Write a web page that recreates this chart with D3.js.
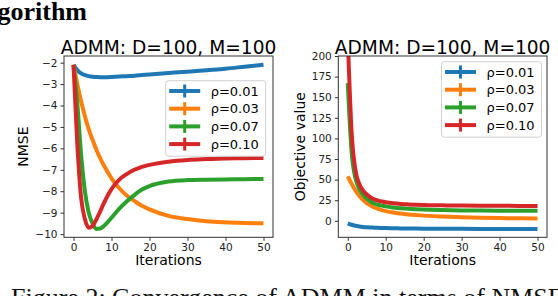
<!DOCTYPE html>
<html>
<head>
<meta charset="utf-8">
<script src="https://cdn.jsdelivr.net/npm/d3@7"></script>
<style>
  body { margin: 0; background: #fff; }
  text { font-family: "DejaVu Sans", sans-serif; }
</style>
</head>
<body>
<div id="chart-area"></div>
<script>
var iters = [0, 1, 2, 3, 4, 5, 6, 7, 8, 9, 10, 12, 14, 16, 18, 20, 25, 30, 35, 40, 45, 50];

var rhoLabels = ["ρ=0.01", "ρ=0.03", "ρ=0.07", "ρ=0.10"];
var colors = ["#1f77b4", "#ff7f0e", "#2ca02c", "#d62728"];

// left panel: NMSE
var nmse01 = [-2.1, -2.35, -2.5, -2.58, -2.63, -2.66, -2.67, -2.68, -2.68, -2.68, -2.67, -2.65, -2.63, -2.61, -2.58, -2.55, -2.48, -2.42, -2.35, -2.28, -2.19, -2.1];
var nmse03 = [-2.1, -3.0, -3.8, -4.5, -5.1, -5.6, -6.05, -6.45, -6.8, -7.1, -7.4, -7.85, -8.2, -8.45, -8.68, -8.85, -9.15, -9.3, -9.4, -9.45, -9.48, -9.5];
var nmse07 = [-2.1, -3.9, -6.3, -8.0, -9.0, -9.5, -9.76, -9.74, -9.62, -9.44, -9.24, -8.82, -8.48, -8.18, -7.92, -7.76, -7.55, -7.48, -7.46, -7.45, -7.44, -7.43];
var nmse10 = [-2.1, -5.8, -8.3, -9.3, -9.7, -9.62, -9.32, -8.95, -8.56, -8.2, -7.9, -7.47, -7.2, -7.0, -6.86, -6.77, -6.62, -6.54, -6.5, -6.47, -6.46, -6.45];

// right panel: objective value
var obj01 = [-3, -4.8, -6, -6.8, -7.4, -7.8, -8.1, -8.35, -8.55, -8.72, -8.85, -9.05, -9.2, -9.32, -9.42, -9.5, -9.64, -9.74, -9.82, -9.88, -9.94, -10];
var obj03 = [54, 45, 37, 30.5, 25.5, 21.5, 18.5, 16.2, 14.5, 13, 11.8, 10, 8.8, 7.8, 7, 6.3, 5.2, 4.4, 3.8, 3.4, 3.1, 2.9];
var obj07 = [167, 84, 52, 39, 32, 27, 23.5, 21, 19.5, 18.4, 17.5, 16.2, 15.2, 14.5, 14, 13.6, 13, 12.6, 12.4, 12.3, 12.2, 12.1];
var obj10 = [222, 108, 62, 45, 37, 32, 28.5, 26, 24.5, 23.4, 22.5, 21.2, 20.4, 19.9, 19.5, 19.2, 18.8, 18.5, 18.3, 18.2, 18.1, 18];

var xTicks = [0, 10, 20, 30, 40, 50];
var nmseTicks = [-10, -9, -8, -7, -6, -5, -4, -3, -2];
var objTicks = [0, 25, 50, 75, 100, 125, 150, 175, 200];

var svg = d3.select("#chart-area")
    .append("svg")
    .attr("width", 558)
    .attr("height", 296);

// bits of the paper around the figure
svg.append("text")
    .attr("x", 87).attr("y", 20)
    .attr("text-anchor", "end")
    .style("font-family", "'Liberation Serif', serif")
    .style("font-weight", "bold")
    .style("font-size", "26px")
    .text("gorithm");

svg.append("text")
    .attr("x", 11).attr("y", 306)
    .style("font-family", "'Liberation Serif', serif")
    .style("font-size", "26px")
    .style("fill", "#111")
    .text("Figure 2: Convergence of ADMM in terms of NMSE");

function panel(opts) {
    var g = svg.append("g");
    var x = d3.scaleLinear().domain([-2.5, 52.5]).range([opts.left, opts.right]);
    var y = d3.scaleLinear().domain(opts.yDomain).range([opts.bottom, opts.top]);

    g.append("clipPath").attr("id", opts.id)
        .append("rect")
        .attr("x", opts.left).attr("y", opts.top)
        .attr("width", opts.right - opts.left).attr("height", opts.bottom - opts.top);

    var line = d3.line()
        .x(function (d, i) { return x(iters[i]); })
        .y(function (d) { return y(d); })
        .curve(d3.curveMonotoneX);

    g.selectAll(".series")
        .data(opts.series)
        .enter()
        .append("path")
        .attr("clip-path", "url(#" + opts.id + ")")
        .attr("d", function (d) { return line(d); })
        .attr("fill", "none")
        .attr("stroke", function (d, i) { return colors[i]; })
        .attr("stroke-width", 4)
        .attr("stroke-linejoin", "round");

    var xAxis = g.append("g")
        .attr("transform", "translate(0," + opts.bottom + ")")
        .call(d3.axisBottom(x).tickValues(xTicks).tickSizeOuter(0).tickSize(3.5).tickPadding(3));
    var yAxis = g.append("g")
        .attr("transform", "translate(" + opts.left + ",0)")
        .call(d3.axisLeft(y).tickValues(opts.yTicks).tickSizeOuter(0).tickSize(3.5).tickPadding(3));
    [xAxis, yAxis].forEach(function (a) {
        a.select(".domain").remove();
        a.selectAll("line").attr("stroke", "#333");
        a.selectAll("text").attr("fill", "#222").style("font-size", "10.5px");
    });

    // frame
    g.append("rect")
        .attr("x", opts.left).attr("y", opts.top)
        .attr("width", opts.right - opts.left).attr("height", opts.bottom - opts.top)
        .attr("fill", "none").attr("stroke", "#333").attr("stroke-width", 1);

    g.append("text")
        .attr("x", (opts.left + opts.right) / 2).attr("y", 54)
        .attr("text-anchor", "middle")
        .style("font-size", "18.6px")
        .text("ADMM: D=100, M=100");

    g.append("text")
        .attr("x", (opts.left + opts.right) / 2).attr("y", 265)
        .attr("text-anchor", "middle")
        .style("font-size", "14px")
        .text("Iterations");

    g.append("text")
        .attr("transform", "translate(" + opts.ylabelX + "," + ((opts.top + opts.bottom) / 2) + ") rotate(-90)")
        .attr("text-anchor", "middle")
        .style("font-size", "14px")
        .text(opts.ylabel);

    // legend
    var lg = g.append("g").attr("transform", "translate(" + opts.legX + "," + opts.legY + ")");
    lg.append("rect")
        .attr("width", 100).attr("height", 75.5)
        .attr("rx", 3)
        .attr("fill", "#fff").attr("fill-opacity", 0.8)
        .attr("stroke", "#d0d0d0").attr("stroke-width", 1);
    rhoLabels.forEach(function (lab, i) {
        var cy = 10.3 + i * 17.7;
        lg.append("line").attr("x1", 3.5).attr("x2", 34.5).attr("y1", cy).attr("y2", cy)
            .attr("stroke", colors[i]).attr("stroke-width", 4);
        lg.append("line").attr("x1", 19).attr("x2", 19).attr("y1", cy - 6.5).attr("y2", cy + 6.5)
            .attr("stroke", colors[i]).attr("stroke-width", 3);
        lg.append("text").attr("x", 45).attr("y", cy + 4.7)
            .style("font-size", "13px")
            .text(lab);
    });
}

panel({
    id: "clipL", left: 64, right: 273, top: 56, bottom: 237.3,
    yDomain: [-10.15, -1.69], yTicks: nmseTicks,
    series: [nmse01, nmse03, nmse07, nmse10],
    ylabel: "NMSE", ylabelX: 27.5, legX: 165.7, legY: 80.7
});

panel({
    id: "clipR", left: 338.3, right: 547, top: 56, bottom: 237.3,
    yDomain: [-20, 200], yTicks: objTicks,
    series: [obj01, obj03, obj07, obj10],
    ylabel: "Objective value", ylabelX: 305, legX: 441.5, legY: 61.7
});
</script>
</body>
</html>
